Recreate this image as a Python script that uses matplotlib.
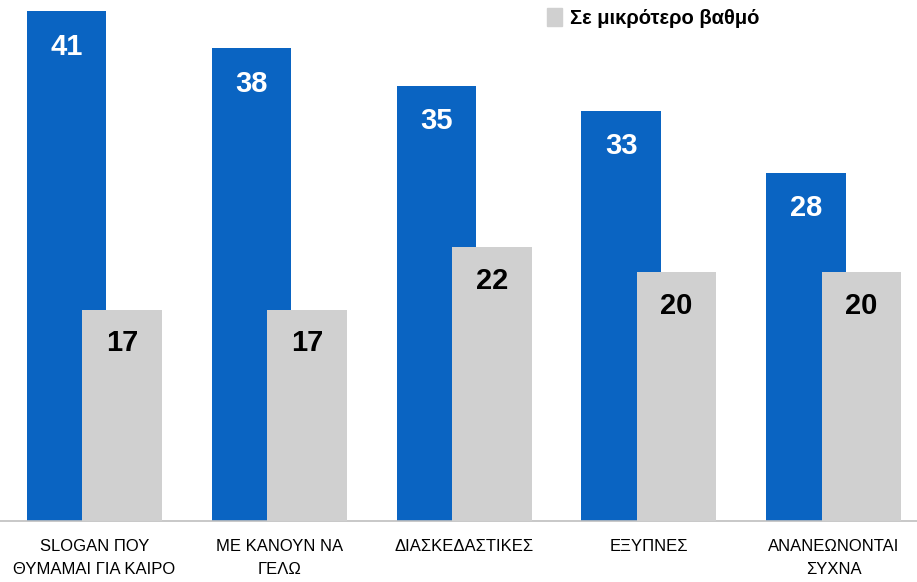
import numpy as np
import matplotlib.pyplot as plt
from matplotlib.patches import Patch

plt.rcParams['font.family'] = ['Liberation Sans', 'DejaVu Sans']

categories = ['SLOGAN ΠΟΥ\nΘΥΜΑΜΑΙ ΓΙΑ ΚΑΙΡΟ', 'ΜΕ ΚΑΝΟΥΝ ΝΑ\nΓΕΛΩ', 'ΔΙΑΣΚΕΔΑΣΤΙΚΕΣ',
              'ΕΞΥΠΝΕΣ', 'ΑΝΑΝΕΩΝΟΝΤΑΙ\nΣΥΧΝΑ']
more_values = [41, 38, 35, 33, 28]
less_values = [17, 17, 22, 20, 20]
less_label = 'Σε μικρότερο βαθμό'

blue = '#0A64C2'
grey = '#D0D0D0'

fig = plt.figure(figsize=(9.17, 5.82), dpi=100)
ax = fig.add_axes([0, 0.105, 1, 0.895])

x = np.arange(len(categories))
w = 0.43
off = 0.15

ax.bar(x - off, more_values, w, color=blue, zorder=2)
ax.bar(x + off, less_values, w, color=grey, zorder=3)

for xi, v in zip(x, more_values):
    ax.text(xi - off, v - 2.85, str(v), ha='center', va='center', color='white',
            fontsize=21, fontweight='bold', zorder=4)
for xi, v in zip(x, less_values):
    ax.text(xi + off, v - 2.7, str(v), ha='center', va='center', color='black',
            fontsize=21, fontweight='bold', zorder=4)

ax.set_xlim(-0.51, 4.45)
ax.set_ylim(0, 41.9)
ax.set_xticks(x)
ax.set_xticklabels(categories, fontsize=12, linespacing=1.65)
ax.tick_params(axis='x', length=0, pad=13)
ax.set_yticks([])
for s in ['top', 'left', 'right']:
    ax.spines[s].set_visible(False)
ax.spines['bottom'].set_color('#BFBFBF')
ax.spines['bottom'].set_linewidth(1.2)

fig.legend(handles=[Patch(color=grey, label=less_label)], loc='upper left',
           bbox_to_anchor=(0.577, 1.018), frameon=False, handlelength=0.75,
           handleheight=1.0, handletextpad=0.4,
           prop={'size': 14.5, 'weight': 'bold'})

fig.savefig('out.png', dpi=100)
